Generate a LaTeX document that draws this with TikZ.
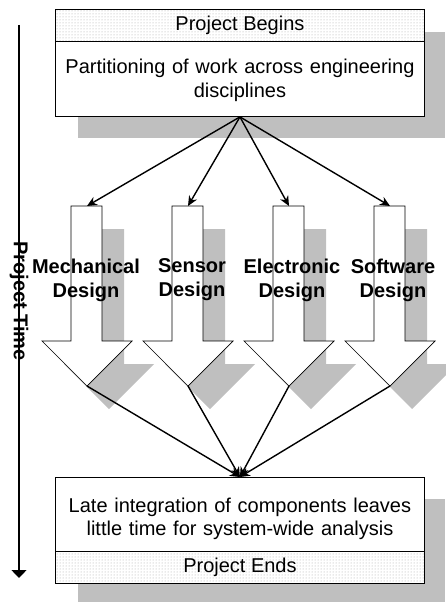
\documentclass[tikz,border=0pt]{standalone}
\usepackage{fontspec}
\setmainfont{Liberation Sans}
\usetikzlibrary{arrows.meta,patterns}
\newcommand{\topstrut}[1]{\rule{0pt}{#1pt}}
\newcommand{\botstrut}{\rule[-6pt]{0pt}{6pt}}
\begin{document}
\begin{tikzpicture}[x=1pt,y=-1pt,
  shadowfill/.style={fill=black!25,draw=none},
  stip/.style={draw=black,line width=0.9pt,preaction={fill=white},pattern=dots,pattern color=black!35,inner sep=0pt,anchor=north west,minimum width=369pt,minimum height=32pt,font=\fontsize{20}{23.4}\selectfont},
  bodybox/.style={draw=black,line width=0.9pt,fill=white,inner sep=0pt,anchor=north west,minimum width=369pt,text width=365pt,align=center,font=\fontsize{20}{23.4}\selectfont},
  blockarrow/.style={draw=black,line width=0.7pt,fill=white},
  conn/.style={line width=1.4pt,-{Stealth[length=10pt,width=9pt]}},
  lbl/.style={font=\bfseries\fontsize{20}{24}\selectfont,align=center,inner sep=0pt}]
\useasboundingbox (0,0) rectangle (445,602);
% shadows of boxes
\fill[shadowfill] (78,32) rectangle (445,138);
\fill[shadowfill] (78,499) rectangle (445,602);
% top box
\node[stip] (begin) at (55,9) {Project Begins};
\node[bodybox,minimum height=75pt] (part) at (55,41) {\topstrut{19}Partitioning of work across engineering\\disciplines\botstrut};
% bottom box
\node[bodybox,minimum height=74pt] (late) at (55,477) {\topstrut{24.5}Late integration of components leaves\\little time for system-wide analysis\botstrut};
\node[stip] (ends) at (55,551) {Project Ends};
% block arrows
\foreach \c/\n in {87/1,188/2,289/3,390/4}{
  \fill[shadowfill] (\c-16+22,206+23) -- (\c+15+22,206+23) -- (\c+15+22,341+23) -- (\c+45+22,341+23)
     -- (\c+22,386+23) -- (\c-45+22,341+23) -- (\c-16+22,341+23) -- cycle;
}
\foreach \c/\n in {87/1,188/2,289/3,390/4}{
  \draw[blockarrow] (\c-16,206) -- (\c+15,206) -- (\c+15,341) -- (\c+45,341)
     -- (\c,386) -- (\c-45,341) -- (\c-16,341) -- cycle;
  \coordinate (t\n) at (\c,206);
  \coordinate (p\n) at (\c,386);
}
% labels
\node[lbl] (l1) at (86,280) {Mechanical\\Design};
\node[lbl] (l2) at (192,280) {Sensor\\Design};
\node[lbl] (l3) at (292,280) {Electronic\\Design};
\node[lbl] (l4) at (393,280) {Software\\Design};
% connectors
\foreach \n in {1,2,3,4}{
  \draw[conn] (part.south) -- (t\n);
  \draw[conn] (p\n) -- (late.north);
}
% time axis
\coordinate (ts) at (19,25);
\coordinate (te) at (19,578);
\draw[line width=1.4pt,-{Triangle[length=8pt,width=15pt]}] (ts) -- (te);
\node[lbl,rotate=-90] (ptime) at (19,301) {Project Time};
\end{tikzpicture}
\end{document}
